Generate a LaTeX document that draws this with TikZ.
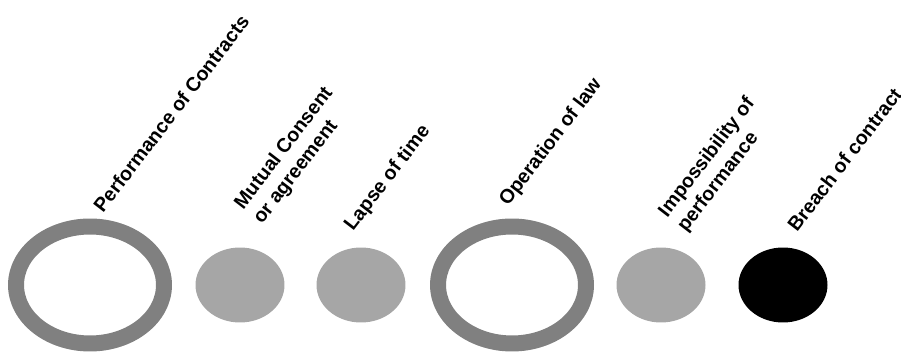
\documentclass[tikz,border=0pt]{standalone}
\usepackage{fontspec}
\setmainfont{Liberation Sans}
\usepackage{tikz}
\usetikzlibrary{positioning,shapes.geometric}
\usepackage{xcolor}
\definecolor{ringgray}{HTML}{808080}
\definecolor{dotgray}{HTML}{A6A6A6}
\tikzset{
  ring/.style   = {draw=ringgray, ellipse, line width=0.32cm, inner sep=0pt,
                   minimum width=2.96cm, minimum height=2.34cm},
  dot/.style    = {ellipse, inner sep=0pt, minimum width=1.78cm,
                   minimum height=1.5cm},
  tag/.style    = {rotate=52.5, anchor=base west, inner sep=0pt, align=left,
                   font=\bfseries\fontsize{11.2}{13.6}\selectfont},
}

\begin{document}
\begin{tikzpicture}[x=0.02cm,y=0.02cm]
\useasboundingbox (0,0) rectangle (901,354);
% the six ways
\node[ring] (perf) at (90,69) {};
\node[dot,fill=dotgray] (mutual) at (240,69) {};
\node[dot,fill=dotgray] (lapse) at (361,69) {};
\node[ring] (oper) at (512,69) {};
\node[dot,fill=dotgray] (imposs) at (661,69) {};
\node[dot,fill=black] (breach) at (783,69) {};
% labels (two-line ones sit on their last line)
\node[tag] (perf-t) at (103,140) {Performance of Contracts};
\node[tag] (mutual-t) at (262,129) {Mutual Consent\\or agreement};
\node[tag] (lapse-t) at (353,122) {Lapse of time};
\node[tag] (oper-t) at (508,147) {Operation of law};
\node[tag] (imposs-t) at (686,121) {Impossibility of\\performance};
\node[tag] (breach-t) at (797,121) {Breach of contract};
\end{tikzpicture}
\end{document}
